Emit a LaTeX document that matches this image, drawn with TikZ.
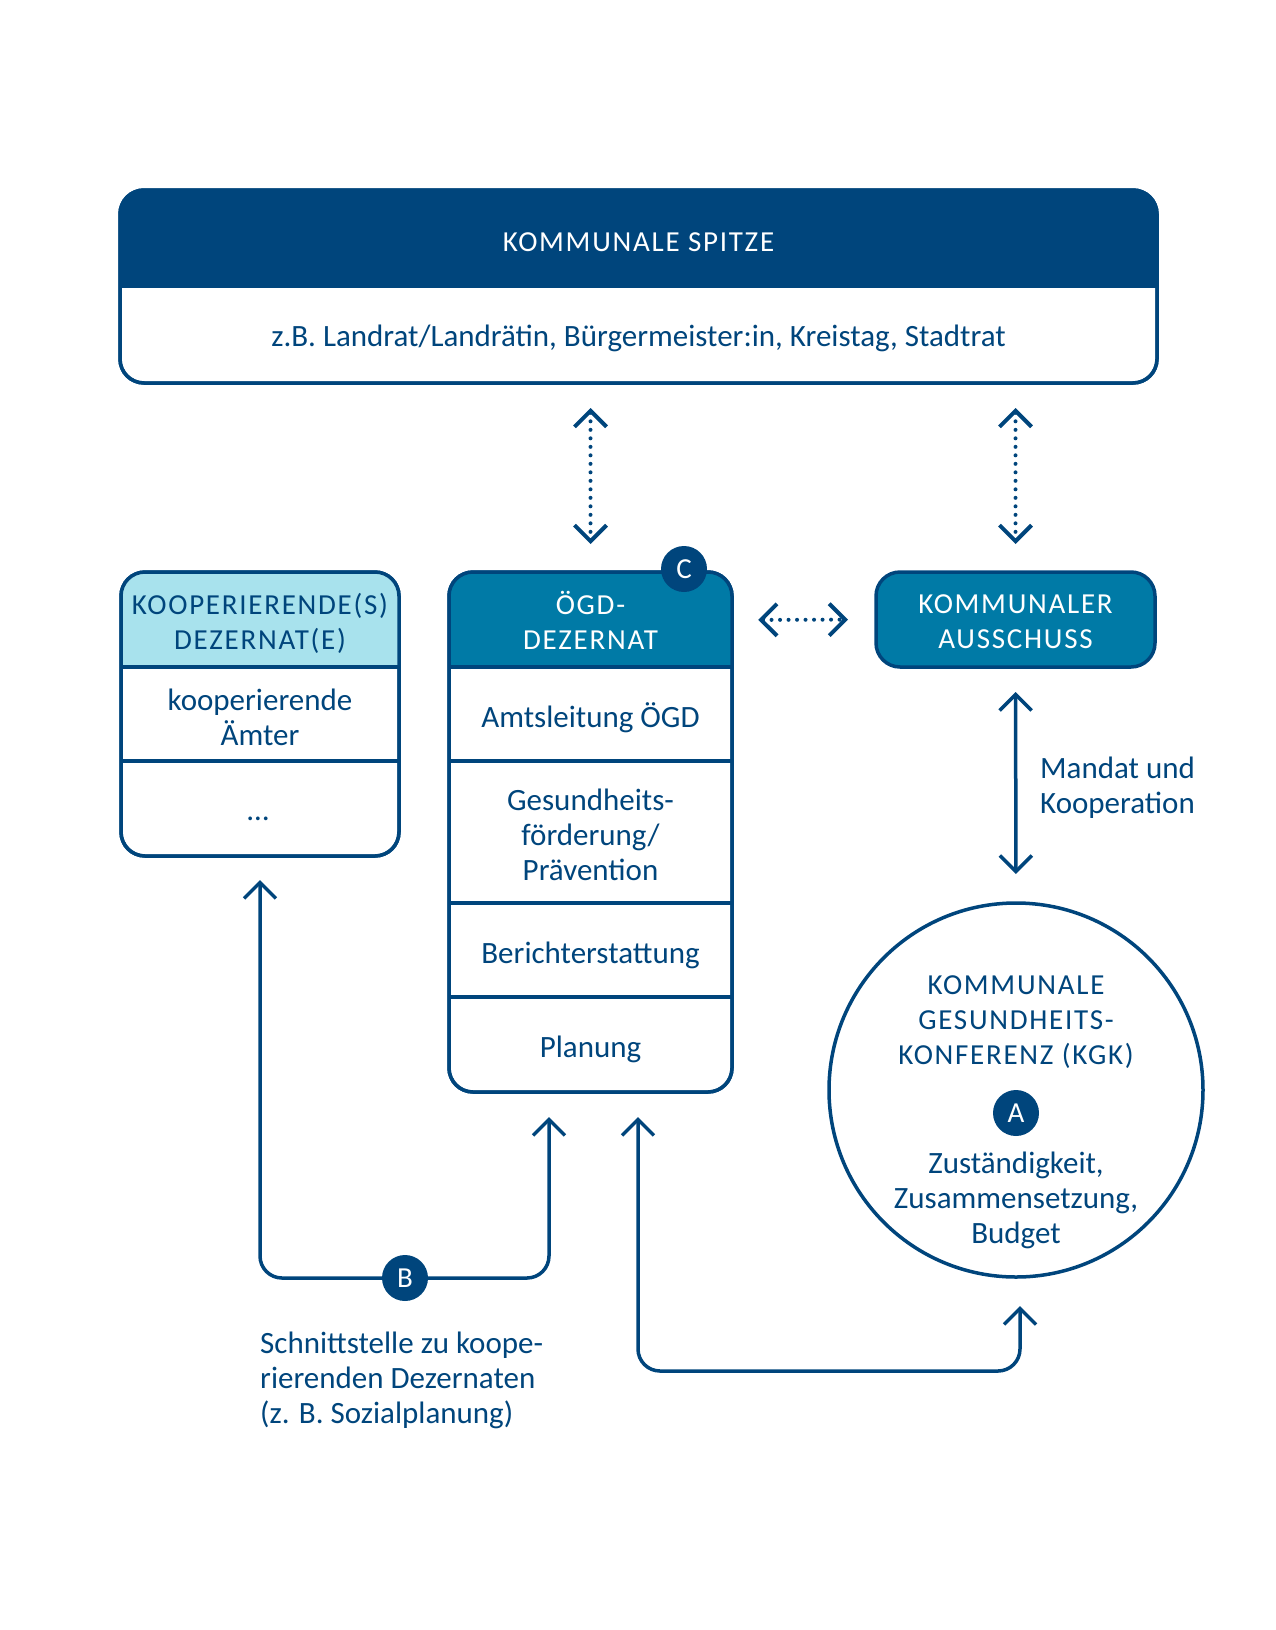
\documentclass[tikz,border=0pt]{standalone}
\usepackage{fontspec}
\setmainfont{Carlito}
\newfontfamily\capsfont[LetterSpace=6]{Carlito}
\usetikzlibrary{arrows.meta}
\definecolor{navy}{RGB}{0,69,124}
\definecolor{midblue}{RGB}{0,122,166}
\definecolor{paleblue}{RGB}{168,226,237}
\begin{document}
\begin{tikzpicture}[x=1pt,y=-1pt,
  box/.style={draw=navy, line width=3.5pt, rounded corners=24pt, fill=white, inner sep=0pt, outer sep=0pt},
  body/.style={text=navy, font=\fontsize{31}{35}\selectfont, align=center, inner sep=0pt},
  caps/.style={font=\capsfont\fontsize{29}{35}\selectfont, align=center, inner sep=0pt},
  badge/.style={circle, fill=navy, minimum size=46pt, inner sep=0pt, text=white, font=\fontsize{29}{32}\selectfont},
  divider/.style={draw=navy, line width=3.5pt},
  tip/.tip={Straight Barb[length=16pt,width=32pt]},
  dotarr/.style={navy, line width=4pt, dash pattern=on 0pt off 8.5pt, line cap=round, arrows={tip-tip}},
  solidarr/.style={navy, line width=3.5pt, arrows={tip-tip}},
  uparr/.style={navy, line width=3.5pt, rounded corners=22pt}
]
\useasboundingbox (0,0) rectangle (1276,1630);

% ---- Kommunale Spitze
\node[box, minimum width=1037pt, minimum height=193pt] (spitze) at (638.5,286.5) {};
\begin{scope}
  \clip[rounded corners=24pt] (spitze.south west) rectangle (spitze.north east);
  \fill[navy] (spitze.north west) rectangle (1157,288);
\end{scope}
\draw[navy, line width=3.5pt, rounded corners=24pt] (spitze.south west) rectangle (spitze.north east);
\node[caps, text=white] (spitzetitle) at (638.5,242) {KOMMUNALE SPITZE};
\node[body] (spitzesub) at (638.5,338) {z.B. Landrat/Landrätin, Bürgermeister:in, Kreistag, Stadtrat};

% ---- Kooperierende Dezernate
\node[box, minimum width=278pt, minimum height=284pt] (koop) at (260,714) {};
\begin{scope}
  \clip[rounded corners=24pt] (koop.south west) rectangle (koop.north east);
  \fill[paleblue] (koop.north west) rectangle (399,667);
\end{scope}
\draw[divider] (121,667) -- (399,667);
\draw[divider] (121,761) -- (399,761);
\draw[navy, line width=3.5pt, rounded corners=24pt] (koop.south west) rectangle (koop.north east);
\node[caps, text=navy] (kooptitle) at (260,623) {KOOPERIERENDE(S)\\DEZERNAT(E)};
\node[body] (koopamt) at (260,717) {kooperierende\\Ämter};
\node[body, anchor=base] (koopdots) at (258,820) {…};

% ---- OEGD Dezernat
\node[box, minimum width=283pt, minimum height=520pt] (oegd) at (590.5,832) {};
\begin{scope}
  \clip[rounded corners=24pt] (oegd.south west) rectangle (oegd.north east);
  \fill[midblue] (oegd.north west) rectangle (732,667);
\end{scope}
\draw[divider] (449,667) -- (732,667);
\draw[divider] (449,761) -- (732,761);
\draw[divider] (449,903) -- (732,903);
\draw[divider] (449,997) -- (732,997);
\draw[navy, line width=3.5pt, rounded corners=24pt] (oegd.south west) rectangle (oegd.north east);
\node[caps, text=white, minimum width=283pt, minimum height=95pt] (oegdhead) at (590.5,620) {ÖGD-\\DEZERNAT};
\node[body] (amt) at (590.5,718) {Amtsleitung ÖGD};
\node[body] (gf) at (590.5,835) {Gesundheits-\\förderung/\\Prävention};
\node[body] (ber) at (590.5,955) {Berichterstattung};
\node[body] (plan) at (590.5,1049) {Planung};
\node[badge] (cbadge) at (684,569) {C};

% ---- Kommunaler Ausschuss
\node[box, fill=midblue, minimum width=279pt, minimum height=95pt] (aus) at (1015.5,619.5) {};
\node[caps, text=white] (austext) at (1015.5,621.5) {KOMMUNALER\\AUSSCHUSS};

% ---- KGK
\node[circle, draw=navy, line width=3.5pt, fill=white, minimum size=374pt, inner sep=0pt, outer sep=0pt] (kgk) at (1016,1090) {};
\node[caps, text=navy] (kgktitle) at (1016,1022) {KOMMUNALE\\GESUNDHEITS-\\KONFERENZ (KGK)};
\node[badge] (abadge) at (1016,1113) {A};
\node[body] (kgktext) at (1016,1200) {Zuständigkeit,\\Zusammensetzung,\\Budget};

% ---- Connectors
\draw[dotarr, shorten <=25pt, shorten >=28pt] (oegd.north |- spitze.south) -- (oegd.north);
\draw[dotarr, shorten <=25pt, shorten >=28pt] (aus.north |- spitze.south) -- (aus.north);
\draw[dotarr, shorten <=26pt, shorten >=28pt] (oegdhead.east) -- (aus.west);
\draw[solidarr, shorten <=25pt, shorten >=29pt] (aus.south) -- (kgk.north);
\node[body, align=left, anchor=west] (mandat) at (1040,788) {Mandat und\\Kooperation};

\coordinate (bpos) at (405,1278);
\coordinate (bR) at ([xshift=-41.5pt]oegd.south);
\draw[uparr, arrows={tip-tip}, shorten <=24pt, shorten >=25pt]
  (koop.south) -- (koop.south |- bpos) -- (bR |- bpos) -- (bR);
\node[badge] (bbadge) at (bpos) {B};

\coordinate (floor) at (638,1371);
\coordinate (cR) at ([xshift=47.5pt]oegd.south);
\coordinate (kgkin) at ([xshift=4pt]kgk.south);
\draw[uparr, arrows={tip-tip}, shorten <=25pt, shorten >=29pt]
  (cR) -- (cR |- floor) -- (kgkin |- floor) -- (kgkin);

\node[body, align=left, anchor=west] (schnitt) at (260,1380) {Schnittstelle zu koope-\\rierenden Dezernaten\\(z. B. Sozialplanung)};
\end{tikzpicture}
\end{document}
